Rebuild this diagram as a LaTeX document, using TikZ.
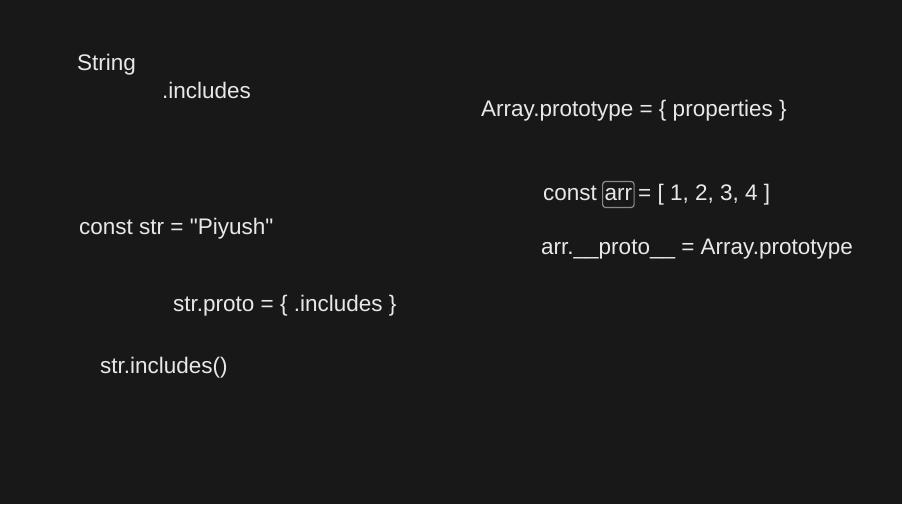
\documentclass[tikz,border=0pt]{standalone}
\usepackage{fontspec}
\newfontfamily\plainsans{Liberation Sans}
\definecolor{bg}{HTML}{181818}
\definecolor{ink}{HTML}{E8E8E8}
\definecolor{boxc}{HTML}{8A8A8A}
\begin{document}
\begin{tikzpicture}[x=1pt,y=-1pt,
  txt/.style={anchor=base west,inner sep=0pt,text=ink,font=\plainsans\fontsize{22.5}{27}\selectfont},
  hlbox/.style={txt,draw=boxc,line width=1.2pt,rounded corners=3pt,inner xsep=2pt,inner ysep=3.5pt,text height=15pt,text depth=4pt}]
\fill[bg] (0,0) rectangle (902,504);
\useasboundingbox (0,0) rectangle (902,504);
\node[txt] (string) at (77,70) {String};
\node[txt] (inc) at (162,98) {.includes};
\node[txt] (aproto) at (481,116) {Array.prototype = \{ properties \}};
\node[txt] (const1) at (543,200) {const};
\node[hlbox] (arr) at (602,200) {arr};
\node[txt] (arrval) at (638,200) {= [ 1, 2, 3, 4 ]};
\node[txt] (str) at (79,234) {const str = "Piyush"};
\node[txt] (arrproto) at (541,254) {arr.\_\_proto\_\_ = Array.prototype};
\node[txt] (strproto) at (173,311) {str.proto = \{ .includes \}};
\node[txt] (strinc) at (100,373) {str.includes()};
\end{tikzpicture}
\end{document}
